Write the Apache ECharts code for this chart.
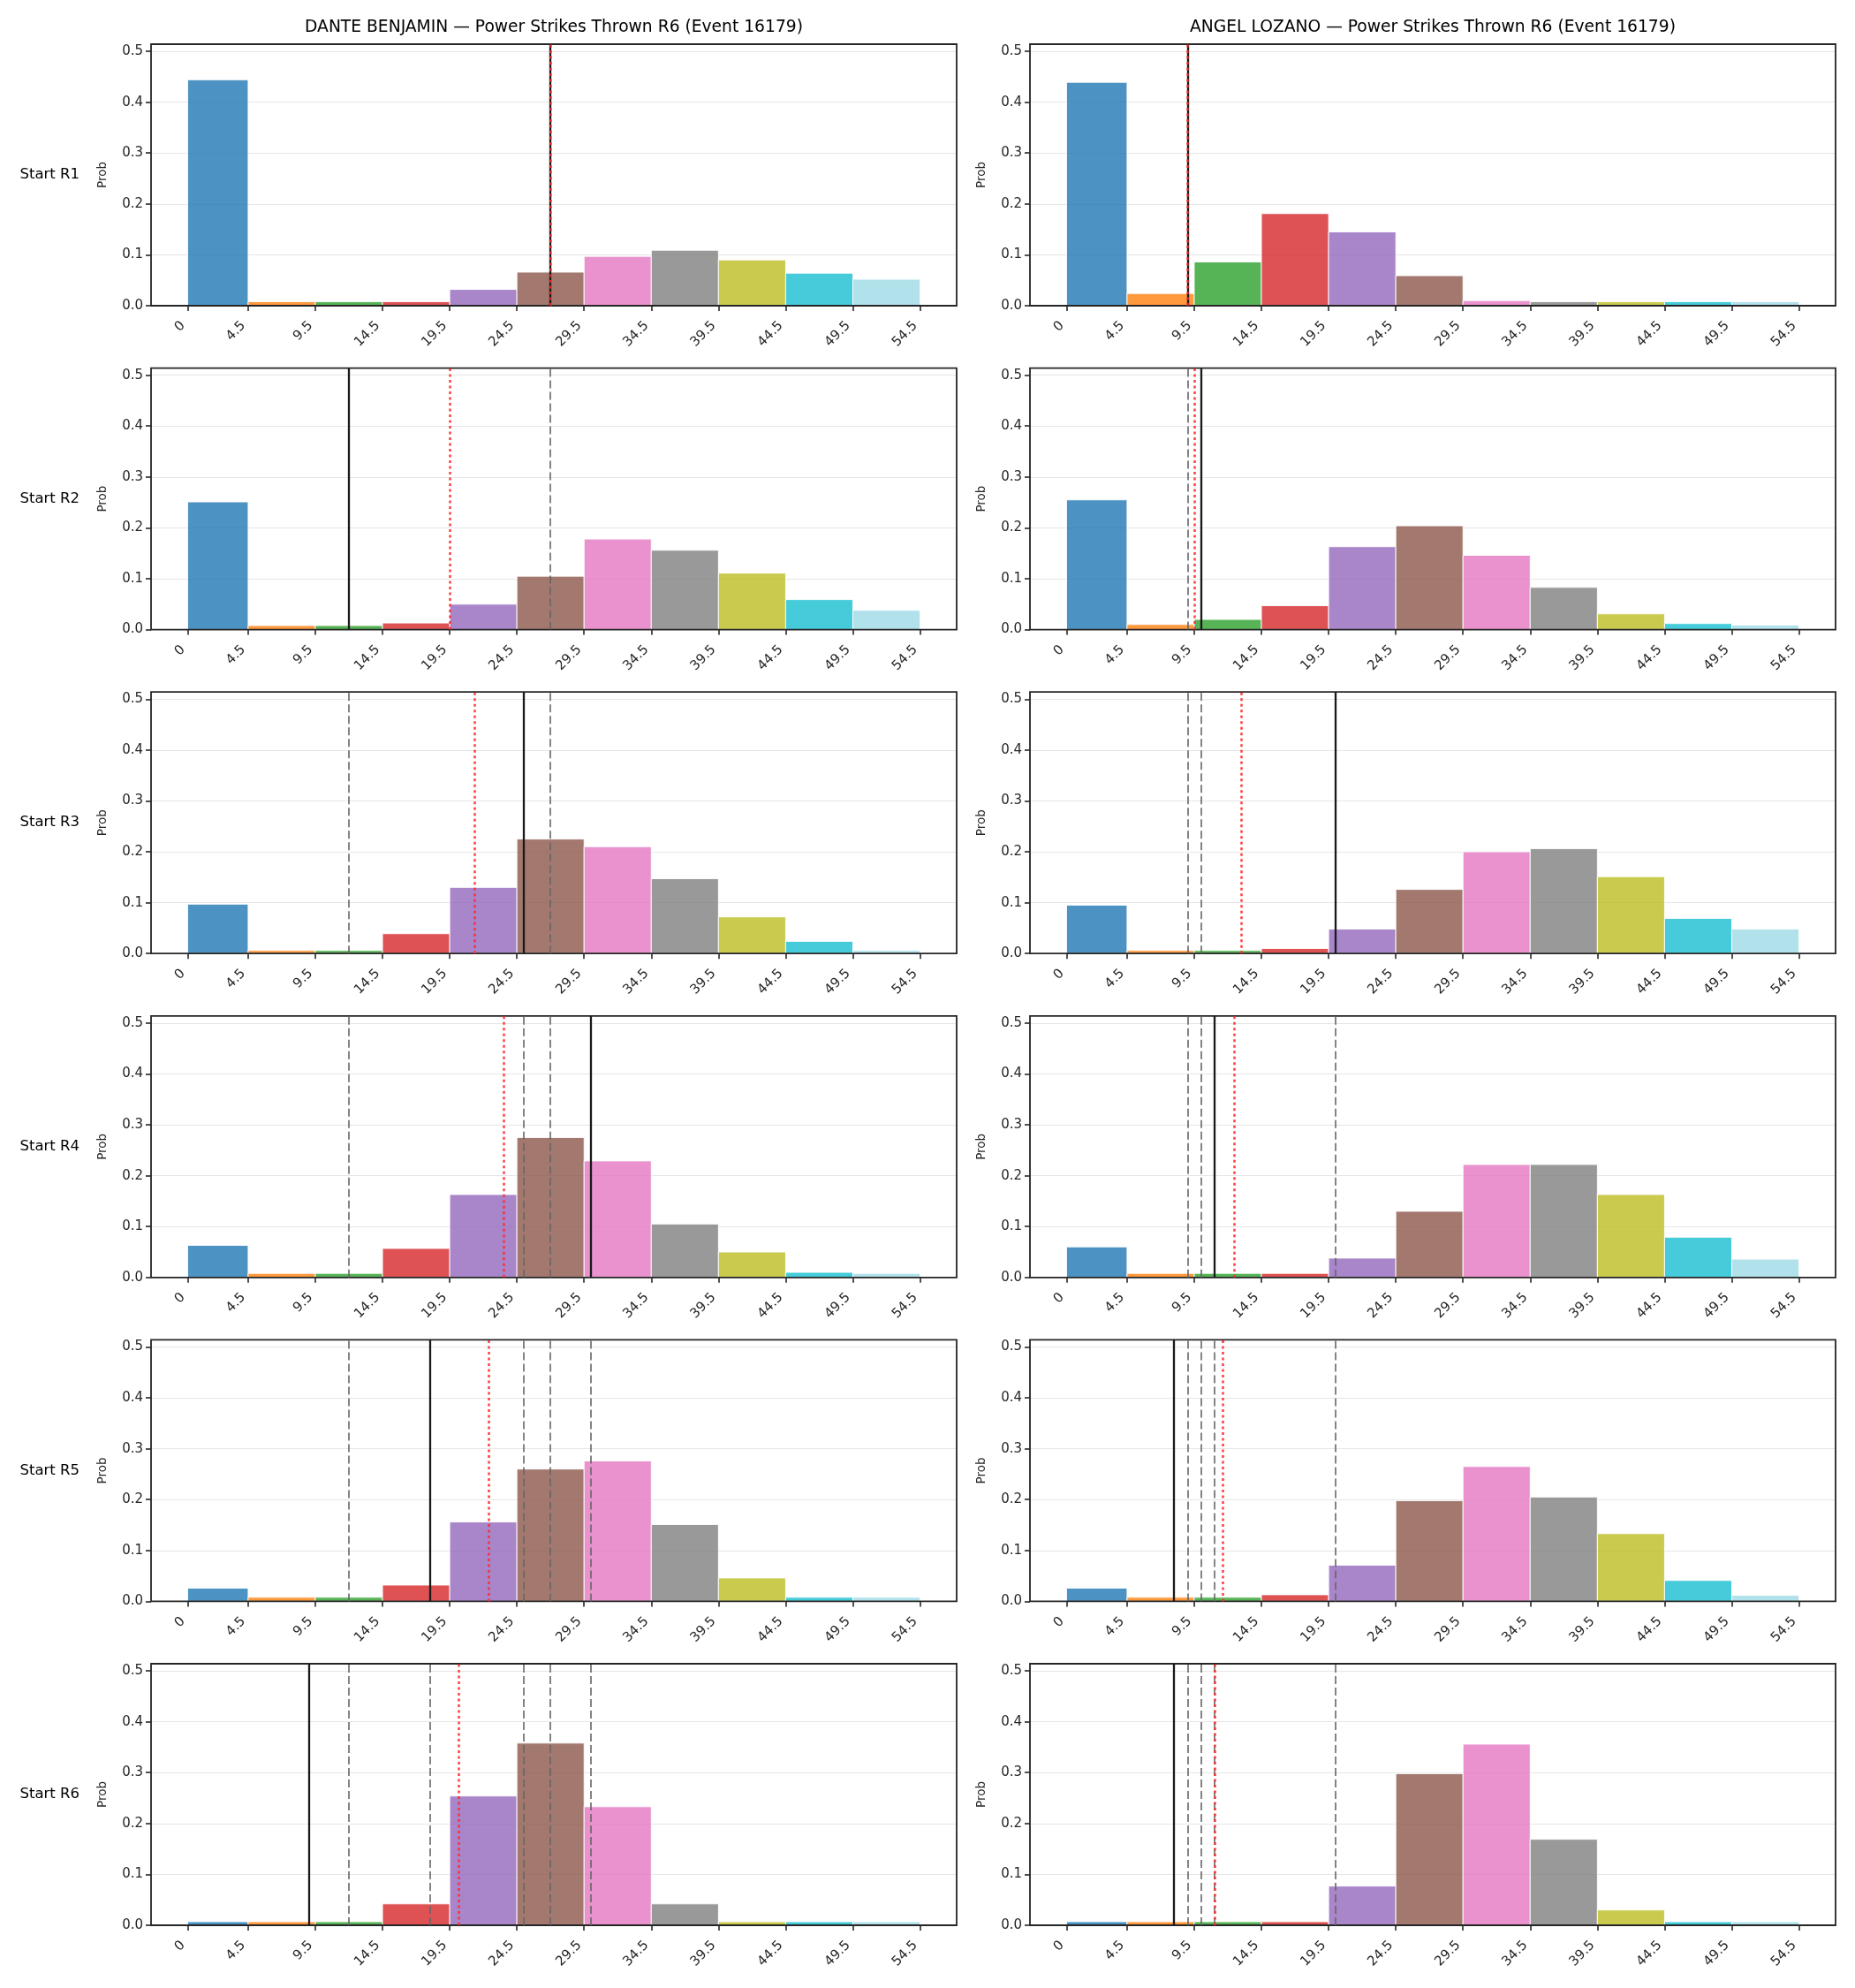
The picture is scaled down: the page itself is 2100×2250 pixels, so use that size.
<!DOCTYPE html>
<html><head><meta charset="utf-8">
<script src="https://cdn.jsdelivr.net/npm/echarts@6/dist/echarts.min.js"></script>
<style>html,body{margin:0;padding:0;background:#fff}#c{width:2100px;height:2250px}</style>
</head><body><div id="c"></div>
<script>
// ---------- DATA ----------
const fighterNames = ['DANTE BENJAMIN', 'ANGEL LOZANO'];
const titleSuffix = ' — Power Strikes Thrown R6 (Event 16179)';
const rowLabels = ['Start R1', 'Start R2', 'Start R3', 'Start R4', 'Start R5', 'Start R6'];
const binEdges = [0, 4.5, 9.5, 14.5, 19.5, 24.5, 29.5, 34.5, 39.5, 44.5, 49.5, 54.5];
const xTickLabels = [0, 4.5, 9.5, 14.5, 19.5, 24.5, 29.5, 34.5, 39.5, 44.5, 49.5, 54.5];
const yTickLabels = [0, 0.1, 0.2, 0.3, 0.4, 0.5];
const binColors = ['#1f77b4', '#ff7f0e', '#2ca02c', '#d62728', '#9467bd', '#8c564b',
                   '#e377c2', '#7f7f7f', '#bcbd22', '#17becf', '#9edae5'];

// probabilities per bin, one row per "Start Rk"
const benjaminProbs = [
  [0.444, 0.008, 0.008, 0.008, 0.032, 0.066, 0.097, 0.109, 0.090, 0.064, 0.052],
  [0.251, 0.008, 0.008, 0.013, 0.050, 0.105, 0.178, 0.156, 0.111, 0.059, 0.038],
  [0.097, 0.006, 0.006, 0.039, 0.130, 0.225, 0.210, 0.147, 0.072, 0.024, 0.006],
  [0.063, 0.008, 0.008, 0.057, 0.163, 0.275, 0.229, 0.105, 0.050, 0.010, 0.008],
  [0.026, 0.008, 0.008, 0.032, 0.156, 0.260, 0.276, 0.151, 0.046, 0.008, 0.008],
  [0.007, 0.007, 0.007, 0.042, 0.254, 0.358, 0.233, 0.042, 0.007, 0.007, 0.007]
];
const lozanoProbs = [
  [0.439, 0.024, 0.086, 0.181, 0.145, 0.059, 0.010, 0.008, 0.008, 0.008, 0.008],
  [0.255, 0.010, 0.020, 0.047, 0.163, 0.204, 0.146, 0.083, 0.031, 0.012, 0.009],
  [0.095, 0.006, 0.006, 0.010, 0.048, 0.126, 0.200, 0.206, 0.151, 0.069, 0.048],
  [0.060, 0.008, 0.008, 0.008, 0.038, 0.130, 0.222, 0.222, 0.163, 0.079, 0.036],
  [0.026, 0.008, 0.008, 0.013, 0.071, 0.198, 0.265, 0.205, 0.133, 0.041, 0.012],
  [0.007, 0.007, 0.007, 0.007, 0.077, 0.298, 0.356, 0.169, 0.030, 0.007, 0.007]
];
// black solid line per row (round value); earlier rows' values appear dashed
const benjaminRoundValues = [27, 12, 25, 30, 18, 9];
const lozanoRoundValues = [9, 10, 20, 11, 8, 8];
// red dotted line per row (running average)
const benjaminAvg = [27, 19.5, 21.33, 23.5, 22.4, 20.17];
const lozanoAvg = [9, 9.5, 13, 12.5, 11.6, 11];

const yMax = 0.514;

// ---------- LAYOUT ----------
const FONT = '"DejaVu Sans", sans-serif';
const colLeft = [171, 1166];
const plotW = 912;
const rowTop0 = 50, rowStep = 366.6, plotH = 296;

function rgba(hex, a) {
  const n = parseInt(hex.slice(1), 16);
  return `rgba(${(n >> 16) & 255},${(n >> 8) & 255},${n & 255},${a})`;
}

const probsByCol = [benjaminProbs, lozanoProbs];
const roundsByCol = [benjaminRoundValues, lozanoRoundValues];
const avgByCol = [benjaminAvg, lozanoAvg];

const grids = [], xAxes = [], yAxes = [], series = [], graphics = [];

for (let r = 0; r < 6; r++) {
  for (let c = 0; c < 2; c++) {
    const idx = grids.length;
    const top = rowTop0 + rowStep * r;
    grids.push({
      left: colLeft[c], top: top, width: plotW, height: plotH,
      show: true, z: 2, borderColor: '#262626', borderWidth: 1.8,
      backgroundColor: 'rgba(0,0,0,0)', containLabel: false
    });
    xAxes.push({
      type: 'value', gridIndex: idx, min: -2.725, max: 57.225, position: 'bottom',
      axisLine: { show: false, onZero: false },
      splitLine: { show: false },
      axisTick: { show: true, inside: false, length: 6, customValues: binEdges,
                  lineStyle: { color: '#262626', width: 1.6 } },
      axisLabel: { show: true, rotate: 45, margin: 15, padding: [0, 7.5, 0, 0],
                   customValues: xTickLabels,
                   fontFamily: FONT, fontSize: 15, color: '#262626',
                   formatter: v => String(v) }
    });
    yAxes.push({
      type: 'value', gridIndex: idx, min: 0, max: yMax, interval: 0.1, position: 'left',
      name: 'Prob', nameLocation: 'middle', nameGap: 48,
      nameTextStyle: { fontFamily: FONT, fontSize: 13.5, color: '#262626' },
      axisLine: { show: false, onZero: false },
      splitLine: { show: true, lineStyle: { color: '#e6e6e6', width: 1.1 } },
      axisTick: { show: true, inside: false, length: 6, customValues: yTickLabels,
                  lineStyle: { color: '#262626', width: 1.6 } },
      axisLabel: { show: true, margin: 9, customValues: yTickLabels,
                   fontFamily: FONT, fontSize: 15, color: '#262626',
                   formatter: v => v.toFixed(1) }
    });

    const probs = probsByCol[c][r];
    const data = probs.map((p, i) => [binEdges[i], binEdges[i + 1], p, i]);
    series.push({
      type: 'custom', xAxisIndex: idx, yAxisIndex: idx, z: 1,
      silent: true, animation: false,
      encode: { x: [0, 1], y: 2 },
      data: data,
      renderItem: (params, api) => {
        const x0 = api.value(0), x1 = api.value(1), h = api.value(2), ci = api.value(3);
        const p0 = api.coord([x0, h]);
        const p1 = api.coord([x1, 0]);
        return {
          type: 'rect',
          shape: { x: p0[0], y: p0[1], width: p1[0] - p0[0], height: p1[1] - p0[1] },
          style: { fill: rgba(binColors[ci], 0.8), stroke: 'rgba(255,255,255,0.9)', lineWidth: 1 }
        };
      }
    });

    const prev = roundsByCol[c].slice(0, r);
    const mk = (vals, style, z) => ({
      type: 'line', xAxisIndex: idx, yAxisIndex: idx, data: [], z: z,
      silent: true, animation: false, showSymbol: false,
      markLine: {
        silent: true, animation: false, symbol: ['none', 'none'],
        label: { show: false }, lineStyle: style,
        emphasis: { disabled: true },
        data: vals.map(v => ({ xAxis: v }))
      }
    });
    if (prev.length) series.push(mk(prev, { color: '#666666', width: 1.6, type: [9, 4], opacity: 1 }, 3));
    series.push(mk([roundsByCol[c][r]], { color: '#1a1a1a', width: 2.3, type: 'solid', opacity: 1 }, 4));
    series.push(mk([avgByCol[c][r]], { color: '#ff2a2a', width: 2.5, type: [3, 3.5], opacity: 0.9 }, 5));
  }
  graphics.push({
    type: 'text', x: 90, y: rowTop0 + rowStep * r + plotH / 2,
    style: { text: rowLabels[r], font: `16.5px ${FONT}`, fill: '#000', align: 'right', verticalAlign: 'middle' }
  });
}
for (let c = 0; c < 2; c++) {
  graphics.push({
    type: 'text', x: colLeft[c] + plotW / 2, y: 31,
    style: { text: fighterNames[c] + titleSuffix, font: `18.7px ${FONT}`, fill: '#000', align: 'center', verticalAlign: 'middle' }
  });
}

const chart = echarts.init(document.getElementById('c'), null, { renderer: 'canvas', width: 2100, height: 2250 });
chart.setOption({
  backgroundColor: '#ffffff',
  animation: false,
  grid: grids, xAxis: xAxes, yAxis: yAxes, series: series,
  graphic: graphics
});
</script></body></html>
